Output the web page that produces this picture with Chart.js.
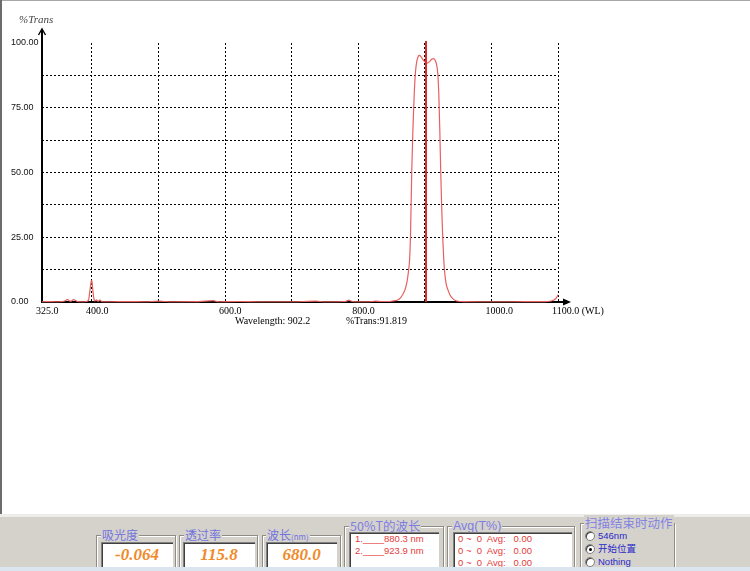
<!DOCTYPE html>
<html><head><meta charset="utf-8">
<script src="https://cdn.jsdelivr.net/npm/chart.js@4.4.1/dist/chart.umd.min.js"></script>
<style>
html,body{margin:0;padding:0;width:750px;height:571px;overflow:hidden;background:#fff;font-family:'Liberation Sans',Arial,sans-serif;}
#plot{position:absolute;left:0;top:0;width:750px;height:514px;background:#fff;}
#cv{position:absolute;left:0;top:0;}
#lb{position:absolute;left:0;top:0;width:2px;height:514px;background:#6c6c6c;}
#tb{position:absolute;left:0;top:0;width:750px;height:1px;background:#a8a8a8;}
#panel{position:absolute;left:0;top:514px;width:750px;height:53px;background:#d5d2cc;overflow:hidden;}
#strip{position:absolute;left:0;top:0;width:750px;height:3px;background:#ededeb;}
#bar{position:absolute;left:0;top:567px;width:750px;height:4px;background:#dbe5ef;}
.grp{position:absolute;border:1px solid #8f8c86;box-shadow:inset 1px 1px 0 #fff,1px 1px 0 #fff;}
.lab{position:absolute;background:#d5d2cc;color:#7272de;padding:0 1px;line-height:14px;font-size:12px;white-space:nowrap;font-family:'Noto Sans CJK SC','Liberation Sans',sans-serif;}
.box{position:absolute;background:#fff;border-top:1px solid #808080;border-left:1px solid #808080;box-shadow:inset 1px 1px 0 #404040;}
.val{position:absolute;font-family:'Liberation Serif','Times New Roman',serif;font-style:italic;font-weight:bold;font-size:17px;line-height:20px;color:#f08a2a;text-align:center;}
.txt{position:absolute;color:#e53b3b;font-size:9.5px;line-height:12px;white-space:pre;font-family:'Liberation Sans',Arial,sans-serif;}
.rad{position:absolute;width:8px;height:8px;border-radius:50%;background:#fff;border:1px solid #808080;box-shadow:inset 1px 1px 0 #404040;}
.dot{position:absolute;left:3px;top:3px;width:3px;height:3px;border-radius:50%;background:#000;}
.rl{position:absolute;color:#2828c8;font-size:9.5px;line-height:12px;white-space:nowrap;font-family:'Liberation Sans','Noto Sans CJK SC',sans-serif;}
</style></head>
<body>
<div id="plot"><canvas id="cv" width="750" height="514"></canvas></div>
<div id="tb"></div><div id="lb"></div>
<div id="panel">
  <div id="strip"></div>
  <!-- 吸光度 -->
  <div class="grp" style="left:96px;top:21px;width:78px;height:60px;"></div>
  <div class="lab" style="left:101px;top:14px;">吸光度</div>
  <div class="box" style="left:101px;top:28px;width:71px;height:40px;"></div>
  <div class="val" style="left:101px;top:31px;width:72px;" id="v1"></div>
  <!-- 透过率 -->
  <div class="grp" style="left:179px;top:21px;width:77px;height:60px;"></div>
  <div class="lab" style="left:184px;top:14px;">透过率</div>
  <div class="box" style="left:183px;top:28px;width:71px;height:40px;"></div>
  <div class="val" style="left:183px;top:31px;width:72px;" id="v2"></div>
  <!-- 波长 -->
  <div class="grp" style="left:262px;top:21px;width:77px;height:60px;"></div>
  <div class="lab" style="left:266px;top:14px;">波长<span style="font-size:8px;">(nm)</span></div>
  <div class="box" style="left:266px;top:28px;width:70px;height:40px;"></div>
  <div class="val" style="left:266px;top:31px;width:71px;" id="v3"></div>
  <!-- 50%T -->
  <div class="grp" style="left:344px;top:12px;width:98px;height:60px;"></div>
  <div class="lab" style="left:349px;top:5px;font-size:12.5px;color:#7d7de2;">50%T的波长</div>
  <div class="box" style="left:349px;top:18px;width:89px;height:40px;"></div>
  <div class="txt" style="left:355px;top:19px;" id="t50"></div>
  <!-- Avg -->
  <div class="grp" style="left:447px;top:12px;width:126px;height:60px;"></div>
  <div class="lab" style="left:452px;top:5px;font-size:12.5px;color:#7d7de2;font-family:'Liberation Sans',sans-serif;">Avg(T%)</div>
  <div class="box" style="left:453px;top:18px;width:118px;height:40px;"></div>
  <div class="txt" style="left:458px;top:19px;" id="tavg"></div>
  <!-- 扫描结束时动作 -->
  <div class="grp" style="left:580px;top:9px;width:93px;height:60px;"></div>
  <div class="lab" style="left:584px;top:1px;font-size:12.5px;line-height:15px;color:#8383e2;">扫描结束时动作</div>
  <div class="rad" style="left:585px;top:17px;"></div><div class="rl" style="left:598px;top:16px;">546nm</div>
  <div class="rad" style="left:585px;top:30px;"><div class="dot"></div></div><div class="rl" style="left:598px;top:29px;">开始位置</div>
  <div class="rad" style="left:585px;top:43px;"></div><div class="rl" style="left:598px;top:42px;">Nothing</div>
</div>
<div id="bar"></div>
<script>
// ---- data ----
const wavelength = [325,335,345,355,360,363,366,369,372,375,378,385,392,395,397,399,400,401,402.5,404,407,409,412,415,430,450,480,500,520,560,582,590,620,650,700,736,750,780,786,790,800,815,826,835,845,850,855,860,864,867,870,873,875,877,878.5,880.3,882,884,886,888,890,892,894.5,897,900,903.5,907,910,913,915.5,917.5,919.5,921,922.5,923.9,925.5,927,928.5,930,932,935,938,942,946,950,960,980,1000,1030,1060,1080,1088,1092,1095,1098,1100];
const transmittance = [0.1,0.15,0.1,0.2,0.5,1.0,0.4,0.3,0.9,0.7,0.2,0.1,0.2,0.8,4.5,8.0,8.3,5.5,2,0.4,0.8,0.3,0.7,0.1,0.1,0.15,0.1,0.3,0.1,0.15,0.5,0.1,0.2,0.1,0.1,0.3,0.1,0.2,0.7,0.3,0.1,0.1,0.3,0.2,0.2,0.3,0.5,0.9,1.8,3,4.6,7.5,11,16,26,50,66,80,89,93,94.8,95.2,94.6,93.6,92.8,92.2,92.8,93.7,94,93.3,91.8,88,80,66,50,35,24,16,11,7,4.5,2.6,1.3,0.6,0.3,0.15,0.1,0.1,0.1,0.12,0.15,0.3,0.6,1.0,1.8,2.8];
const xTickValues = [325,400,500,600,700,800,900,1000,1100];
const xTickLabels = ['325.0','400.0','','600.0','','800.0','','1000.0','1100.0 (WL)'];
const yTickValues = [0,12.5,25,37.5,50,62.5,75,87.5,100];
const yTickLabels = ['0.00','','25.00','','50.00','','75.00','','100.00'];
const cursorWavelength = 902.2;
const cursorTrans = 91.819;
const absorbance = '-0.064';
const transValue = '115.8';
const wlValue = '680.0';
const halfWl = ['880.3','923.9'];
const avgRows = [['0','0','0.00'],['0','0','0.00'],['0','0','0.00']];

document.getElementById('v1').textContent = absorbance;
document.getElementById('v2').textContent = transValue;
document.getElementById('v3').textContent = wlValue;
document.getElementById('t50').textContent = halfWl.map((v,i)=>(i+1)+'.____'+v+' nm').join('\n');
document.getElementById('tavg').textContent = avgRows.map(r=>r[0]+' ~  '+r[1]+'  Avg:   '+r[2]).join('\n');

const serif = "'Liberation Serif','Times New Roman',serif";
const decor = {
  id:'decor',
  beforeDatasetsDraw(chart){
    const {ctx, chartArea:a} = chart;
    ctx.save();
    ctx.strokeStyle='#000'; ctx.fillStyle='#000';
    ctx.lineWidth=2;
    ctx.beginPath(); ctx.moveTo(a.left, a.bottom+1); ctx.lineTo(a.left, a.top-13); ctx.stroke();
    ctx.lineWidth=1.4;
    ctx.beginPath(); ctx.moveTo(a.left-3.5, a.top-8); ctx.lineTo(a.left, a.top-14); ctx.lineTo(a.left+3.5, a.top-8); ctx.stroke();
    ctx.lineWidth=2;
    ctx.beginPath(); ctx.moveTo(a.left, a.bottom); ctx.lineTo(a.right+8, a.bottom); ctx.stroke();
    ctx.beginPath(); ctx.moveTo(a.right+13, a.bottom); ctx.lineTo(a.right+5, a.bottom-3.5); ctx.lineTo(a.right+5, a.bottom+3.5); ctx.closePath(); ctx.fill();
    ctx.restore();
  },
  afterDatasetsDraw(chart){
    const {ctx, chartArea:a, scales} = chart;
    const x = Math.round(scales.x.getPixelForValue(cursorWavelength));
    ctx.save();
    ctx.strokeStyle='#e02a2a'; ctx.lineWidth=2;
    ctx.beginPath(); ctx.moveTo(x, a.top-2); ctx.lineTo(x, a.bottom); ctx.stroke();
    ctx.restore();
  },
  afterDraw(chart){
    const {ctx} = chart;
    ctx.save();
    ctx.textBaseline='middle'; ctx.textAlign='left';
    ctx.fillStyle='#444'; ctx.font="italic 11px "+serif;
    ctx.fillText('%Trans', 19, 20);
    ctx.fillStyle='#000'; ctx.font="10px "+serif;
    ctx.fillText('Wavelength: '+cursorWavelength.toFixed(1), 235, 321);
    ctx.fillText('%Trans:'+cursorTrans.toFixed(3), 346, 321);
    ctx.restore();
  }
};

new Chart(document.getElementById('cv'), {
  type:'line',
  data:{datasets:[{
    data: wavelength.map((x,i)=>({x:x, y:transmittance[i]})),
    borderColor:'#e8605f', borderWidth:1.2, pointRadius:0, fill:false,
    cubicInterpolationMode:'monotone', clip:false
  }]},
  options:{
    responsive:false, animation:false, devicePixelRatio:1,
    layout:{padding:{left:11, top:43, right:192, bottom:172}},
    plugins:{legend:{display:false}, tooltip:{enabled:false}},
    scales:{
      x:{
        type:'linear', min:325, max:1100,
        afterBuildTicks:s=>{ s.ticks = xTickValues.map(v=>({value:v})); },
        afterFit:s=>{ s.height=40; s.paddingLeft=0; s.paddingRight=0; },
        ticks:{autoSkip:false, maxRotation:0, minRotation:0, align:'start', labelOffset:-6, padding:3,
          color:'#000', font:{family:serif, size:10},
          callback:(v,i)=>xTickLabels[xTickValues.indexOf(v)] ?? ''},
        grid:{drawTicks:false, lineWidth:1, color:c=> (c.tick && c.tick.value===325) ? 'rgba(0,0,0,0)' : '#000'},
        border:{display:false, dash:[2,2]}
      },
      y:{
        type:'linear', min:0, max:100,
        afterBuildTicks:s=>{ s.ticks = yTickValues.map(v=>({value:v})); },
        afterFit:s=>{ s.width=31; s.paddingTop=0; s.paddingBottom=0; },
        ticks:{autoSkip:false, crossAlign:'far', padding:0, color:'#111',
          font:{family:"'Liberation Sans',Arial,sans-serif", size:9},
          callback:(v)=>yTickLabels[yTickValues.indexOf(v)] ?? ''},
        grid:{drawTicks:false, lineWidth:1, color:c=> (c.tick && (c.tick.value===0 || c.tick.value===100)) ? 'rgba(0,0,0,0)' : '#000'},
        border:{display:false, dash:[2,2]}
      }
    }
  },
  plugins:[decor]
});
</script>
</body></html>
